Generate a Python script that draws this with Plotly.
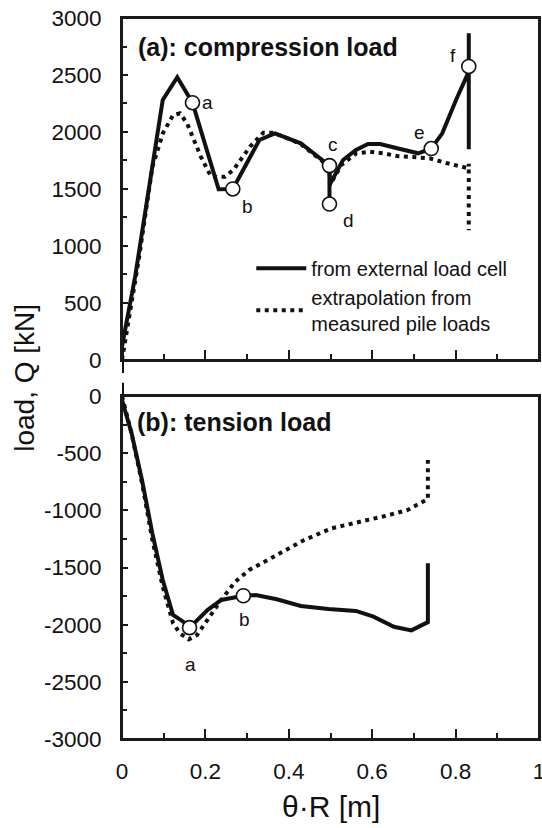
import plotly.graph_objects as go

# ---------------- panel (a): compression load ----------------
comp_cell_x = [0.0, 0.0, 0.0315, 0.0977, 0.1325, 0.169, 0.2318, 0.251, 0.2657, 0.3295,
               0.3667, 0.4288, 0.4975, 0.4975, 0.4975, 0.530, 0.561, 0.590, 0.619,
               0.660, 0.710, 0.7416, 0.768, 0.801, 0.8316, 0.8316, 0.8316]
comp_cell_y = [-115, 120, 731, 2281, 2480, 2257, 1497, 1497, 1500, 1930,
               1988, 1901, 1705, 1368, 1535, 1754, 1842, 1895, 1895,
               1857, 1813, 1855, 1988, 2281, 2529, 2866, 1848]

comp_pile_x = [0.0, 0.040, 0.073, 0.098, 0.1225, 0.139, 0.156, 0.189, 0.2136, 0.247,
               0.267, 0.307, 0.339, 0.363, 0.387, 0.4288, 0.497, 0.499, 0.510, 0.526,
               0.562, 0.594, 0.626, 0.660, 0.698, 0.7376, 0.7775, 0.809, 0.8316,
               0.8316, 0.8316]
comp_pile_y = [0, 877, 1696, 1988, 2149, 2164, 2076, 1784, 1608, 1608,
               1667, 1871, 1994, 1994, 1959, 1895, 1695, 1535, 1608, 1711,
               1813, 1827, 1813, 1789, 1780, 1769, 1728, 1696, 1681,
               1721, 1137]

comp_pts_x = [0.169, 0.2657, 0.4975, 0.4975, 0.7416, 0.8316]
comp_pts_y = [2257, 1500, 1705, 1368, 1855, 2575]
comp_pts_lbl = ["a", "b", "c", "d", "e", "f"]

# ---------------- panel (b): tension load ----------------
tens_cell_x = [0.0, 0.0, 0.023, 0.048, 0.0728, 0.0977, 0.1225, 0.147, 0.162, 0.205,
               0.238, 0.291, 0.321, 0.371, 0.429, 0.495, 0.561, 0.603, 0.652,
               0.694, 0.7335, 0.7335]
tens_cell_y = [116, -35, -326, -735, -1201, -1609, -1915, -1974, -2026, -1872,
               -1784, -1747, -1741, -1778, -1837, -1863, -1880, -1930, -2018,
               -2050, -1978, -1463]

tens_pile_x = [0.0, 0.023, 0.048, 0.0728, 0.0977, 0.1225, 0.139, 0.160, 0.180, 0.205,
               0.238, 0.2715, 0.305, 0.371, 0.437, 0.503, 0.5695, 0.636, 0.685,
               0.7185, 0.7335, 0.7335]
tens_pile_y = [0, -330, -760, -1259, -1668, -1988, -2076, -2128, -2090, -1959,
               -1784, -1624, -1522, -1391, -1259, -1157, -1105, -1045, -997,
               -930, -900, -560]

tens_pts_x = [0.162, 0.291]
tens_pts_y = [-2026, -1747]
tens_pts_lbl = ["a", "b"]

# axis ticks
x_ticks = [0, 0.2, 0.4, 0.6, 0.8, 1.0]
x_ticktext = ["0", "0.2", "0.4", "0.6", "0.8", "1"]
comp_ticks = [0, 500, 1000, 1500, 2000, 2500, 3000]
comp_ticktext = ["0", "500", "1000", "1500", "2000", "2500", "3000"]
tens_ticks = [0, -500, -1000, -1500, -2000, -2500, -3000]
tens_ticktext = ["0", "-500", "-1000", "-1500", "-2000", "-2500", "-3000"]

# ---------------- styling / layout ----------------
FONT = "Liberation Sans, Arial, sans-serif"
INK = "#111111"
FRAME = "#1a1a1a"
LW = 4
DOT = "4px,4.5px"

# label offsets (pixels, right / down) for point letters
comp_offsets = [(15, 0), (15, 18), (4, -21), (19, 16), (-12, -16), (-16, -11)]
tens_offsets = [(1, 37), (1, 24)]

top_dom = [0.5257, 1.0]
bot_dom = [0.0, 0.4757]
comp_range = [0, 3000]
tens_range = [-3000, 0]

# overlay axes spanning the whole plotting area, scaled to match each panel,
# so the curves are not cut at the panel borders
def overlay_range(dom, rng):
    span = (rng[1] - rng[0]) / (dom[1] - dom[0])
    return [rng[0] - dom[0] * span, rng[1] + (1 - dom[1]) * span]

comp_over = overlay_range(top_dom, comp_range)
tens_over = overlay_range(bot_dom, tens_range)

fig = go.Figure()

# empty traces so that both framed panels are created
fig.add_trace(go.Scatter(x=[None], y=[None], mode="lines", showlegend=False,
                         hoverinfo="skip", xaxis="x", yaxis="y"))
fig.add_trace(go.Scatter(x=[None], y=[None], mode="lines", showlegend=False,
                         hoverinfo="skip", xaxis="x2", yaxis="y2"))

solid = dict(color=INK, width=LW)
dotted = dict(color=INK, width=LW, dash=DOT)
circle = dict(symbol="circle", size=14, color="white", line=dict(color=INK, width=1.6))

fig.add_trace(go.Scatter(x=comp_cell_x, y=comp_cell_y, mode="lines", line=solid,
                         name="from external load cell", xaxis="x3", yaxis="y3"))
fig.add_trace(go.Scatter(x=comp_pile_x, y=comp_pile_y, mode="lines", line=dotted,
                         name="extrapolation from<br>measured pile loads",
                         xaxis="x3", yaxis="y3"))
fig.add_trace(go.Scatter(x=comp_pts_x, y=comp_pts_y, mode="markers", marker=circle,
                         showlegend=False, xaxis="x3", yaxis="y3", cliponaxis=False))

fig.add_trace(go.Scatter(x=tens_pile_x, y=tens_pile_y, mode="lines", line=dotted,
                         showlegend=False, xaxis="x4", yaxis="y4"))
fig.add_trace(go.Scatter(x=tens_cell_x, y=tens_cell_y, mode="lines", line=solid,
                         showlegend=False, xaxis="x4", yaxis="y4"))
fig.add_trace(go.Scatter(x=tens_pts_x, y=tens_pts_y, mode="markers", marker=circle,
                         showlegend=False, xaxis="x4", yaxis="y4", cliponaxis=False))

annotations = []
for xv, yv, t, (dx, dy) in zip(comp_pts_x, comp_pts_y, comp_pts_lbl, comp_offsets):
    annotations.append(dict(x=xv, y=yv, xref="x3", yref="y3", text=t, showarrow=False,
                            xshift=dx, yshift=-dy, font=dict(size=19, color=INK)))
for xv, yv, t, (dx, dy) in zip(tens_pts_x, tens_pts_y, tens_pts_lbl, tens_offsets):
    annotations.append(dict(x=xv, y=yv, xref="x4", yref="y4", text=t, showarrow=False,
                            xshift=dx, yshift=-dy, font=dict(size=19, color=INK)))

annotations += [
    dict(text="<b>(a): compression load</b>", xref="paper", yref="paper",
         x=0.0335, y=0.9602, xanchor="left", yanchor="middle", showarrow=False,
         font=dict(size=25, color=INK)),
    dict(text="<b>(b): tension load</b>", xref="paper", yref="paper",
         x=0.031, y=0.4401, xanchor="left", yanchor="middle", showarrow=False,
         font=dict(size=25, color=INK)),
    dict(text="load, Q [kN]", xref="paper", yref="paper", x=-0.2344, y=0.5014,
         textangle=-90, xanchor="center", yanchor="middle", showarrow=False,
         font=dict(size=28, color=INK)),
    dict(text="θ·R [m]", xref="paper", yref="paper", x=0.5, y=-0.0939,
         xanchor="center", yanchor="middle", showarrow=False,
         font=dict(size=30, color=INK)),
]

# box frame around each panel
frames = [
    dict(type="rect", xref="paper", yref="paper", x0=0, x1=1,
         y0=top_dom[0], y1=top_dom[1], line=dict(color=FRAME, width=2),
         layer="above"),
    dict(type="rect", xref="paper", yref="paper", x0=0, x1=1,
         y0=bot_dom[0], y1=bot_dom[1], line=dict(color=FRAME, width=2),
         layer="above"),
]

common_axis = dict(showline=True, mirror=True, linecolor=FRAME, linewidth=2,
                   ticks="inside", tickcolor=FRAME, tickwidth=1.5,
                   showgrid=False, zeroline=False, automargin=False,
                   ticklabeloverflow="allow",
                   tickfont=dict(size=22.5, color=INK, family=FONT))

xminor = dict(tickmode="linear", tick0=0, dtick=0.1, ticks="inside", ticklen=6,
              tickcolor=FRAME, tickwidth=1.5, showgrid=False)
yminor = dict(tickmode="linear", tick0=0, dtick=250, ticks="inside", ticklen=4.5,
              tickcolor=FRAME, tickwidth=1.5, showgrid=False)

fig.update_layout(
    width=542, height=828,
    margin=dict(l=122, r=3, t=18, b=89),
    paper_bgcolor="white", plot_bgcolor="rgba(0,0,0,0)",
    font=dict(family=FONT, color=INK),
    showlegend=True,
    legend=dict(x=0.31, y=0.68, xanchor="left", yanchor="top", itemwidth=50,
                bgcolor="rgba(0,0,0,0)", borderwidth=0,
                font=dict(size=20, color=INK, family=FONT), tracegroupgap=0),
    xaxis=dict(domain=[0, 1], range=[0, 1], anchor="y", tickvals=x_ticks,
               showticklabels=False, ticklen=10, minor=xminor, **common_axis),
    yaxis=dict(domain=top_dom, range=comp_range, anchor="x", tickvals=comp_ticks,
               ticktext=comp_ticktext, ticklen=6, minor=yminor,
               ticklabelstandoff=14, **common_axis),
    xaxis2=dict(domain=[0, 1], range=[0, 1], anchor="y2", tickvals=x_ticks,
                ticktext=x_ticktext, ticklen=10, minor=xminor,
                ticklabelstandoff=11, **common_axis),
    yaxis2=dict(domain=bot_dom, range=tens_range, anchor="x2", tickvals=tens_ticks,
                ticktext=tens_ticktext, ticklen=6, minor=yminor,
                ticklabelstandoff=14, **common_axis),
    xaxis3=dict(domain=[0, 1], range=[0, 1], anchor="y3", visible=False),
    yaxis3=dict(domain=[0, 1], range=comp_over, anchor="x3", visible=False),
    xaxis4=dict(domain=[0, 1], range=[0, 1], anchor="y4", visible=False),
    yaxis4=dict(domain=[0, 1], range=tens_over, anchor="x4", visible=False),
    shapes=frames,
    annotations=annotations,
)

fig.write_html("out.html")
